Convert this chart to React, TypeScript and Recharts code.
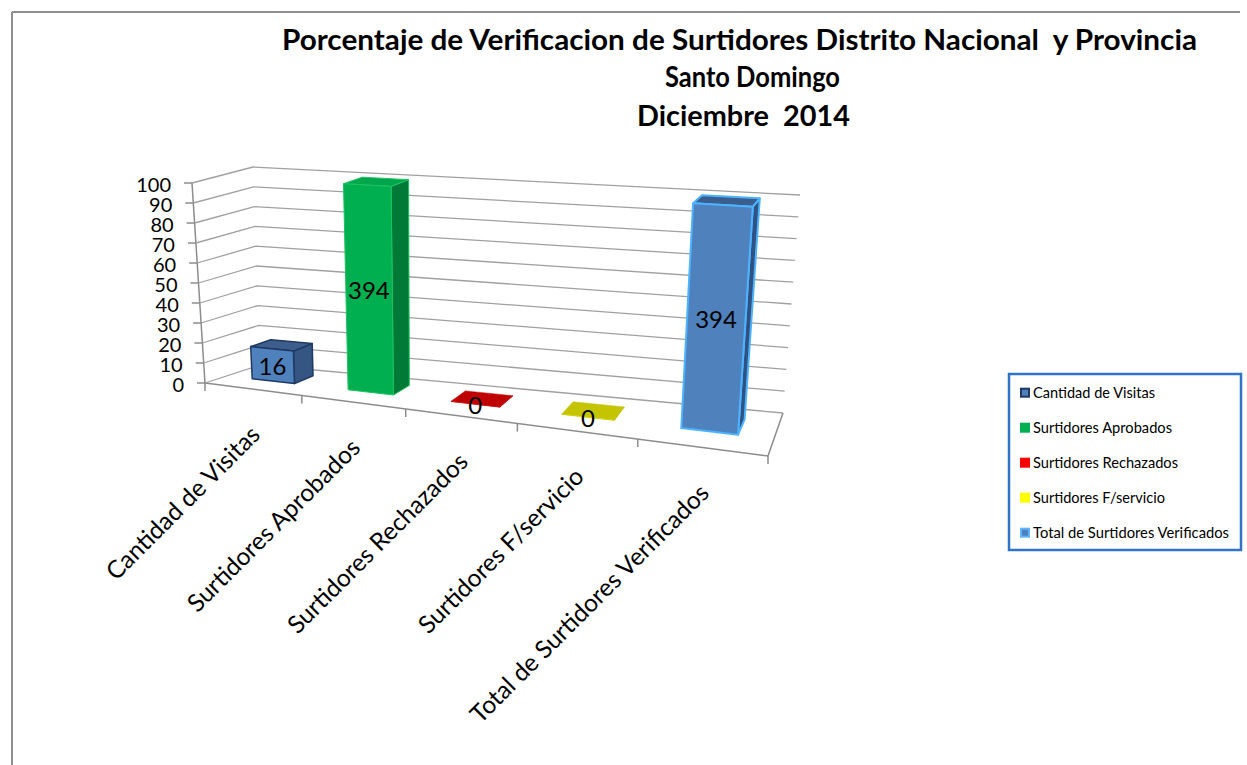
import { BarChart, Bar, XAxis, YAxis } from 'recharts';

const categories = [
  'Cantidad de Visitas',
  'Surtidores Aprobados',
  'Surtidores Rechazados',
  'Surtidores F/servicio',
  'Total de Surtidores Verificados',
];
const values = [16, 394, 0, 0, 394];
const yTicks = [0, 10, 20, 30, 40, 50, 60, 70, 80, 90, 100];
const titleLines = [
  'Porcentaje de Verificacion de Surtidores Distrito Nacional  y Provincia',
  'Santo Domingo',
  'Diciembre  2014',
];

const data = categories.map((name, i) => ({ name, value: values[i] }));

// front / side / top / outline colours per category
const faces = [
  { front: '#4f81bd', side: '#355582', top: '#3d5e8c', stroke: '#1f3864', sw: 1.5 },
  { front: '#00b050', side: '#007a36', top: '#00a64b', stroke: '#1cc260', sw: 1 },
  { front: '#ff0000', side: '#a00000', top: '#c00000', stroke: '#c00000', sw: 0.5 },
  { front: '#ffff00', side: '#a0a000', top: '#c4c400', stroke: '#c4c400', sw: 0.5 },
  { front: '#4f81bd', side: '#2f5282', top: '#3a5e8e', stroke: '#4db3ff', sw: 2 },
];
const legendSwatch = [
  { fill: '#4f81bd', stroke: '#1f3864' },
  { fill: '#00b050', stroke: '#00b050' },
  { fill: '#ff0000', stroke: '#ff0000' },
  { fill: '#ffff00', stroke: '#ffff00' },
  { fill: '#4f81bd', stroke: '#5fb4ff' },
];
const legendTextWidth = [122, 139, 145, 132, 196];

const W = 1247;
const H = 765;
// plot area left by the 1px axes
const PL = 1;
const PW = W - 1;
const PB = H - 1;
const PH = H - 1;
const FONT = "Lato, 'Open Sans', sans-serif";

// corners of the 3D box on screen (front/back, bottom/top, left/right)
type Pt = [number, number];
const FBL: Pt = [205, 383];
const FTL: Pt = [192, 183];
const FBR: Pt = [768, 456];
const FTR: Pt = [784, 218];
const BBL: Pt = [260, 365];
const BTL: Pt = [253, 167];
const BBR: Pt = [783, 413];
const BTR: Pt = [800, 195];
const K = 0.831; // foreshortening along the category axis
const WF = 0.4; // bar front depth
const WB = 0.77; // bar back depth

const warp = (u: number) => (u * K) / (1 + (K - 1) * u);
const mix = (a: Pt, b: Pt, t: number): Pt => [a[0] + (b[0] - a[0]) * t, a[1] + (b[1] - a[1]) * t];
function proj(u: number, v: number, w: number): Pt {
  const uu = warp(u);
  const bot = mix(mix(FBL, FBR, uu), mix(BBL, BBR, uu), w);
  const top = mix(mix(FTL, FTR, uu), mix(BTL, BTR, uu), w);
  return mix(bot, top, v);
}
const pts = (list: Pt[]) => list.map((p) => `${p[0].toFixed(1)},${p[1].toFixed(1)}`).join(' ');

function Prism(props: any) {
  const { x, y, width, index, value } = props;
  const c = faces[index];
  const u0 = (x - PL) / PW;
  const u1 = (x + width - PL) / PW;
  const v = Math.min(1, Math.max(0, (PB - y) / PH));
  const front = [proj(u0, 0, WF), proj(u1, 0, WF), proj(u1, v, WF), proj(u0, v, WF)];
  const side = [proj(u1, 0, WF), proj(u1, 0, WB), proj(u1, v, WB), proj(u1, v, WF)];
  const top = [proj(u0, v, WF), proj(u1, v, WF), proj(u1, v, WB), proj(u0, v, WB)];
  const lab = proj((u0 + u1) / 2, v / 2, WF);
  return (
    <g>
      <polygon points={pts(side)} fill={c.side} stroke={c.stroke} strokeWidth={c.sw} strokeLinejoin="round" />
      <polygon points={pts(top)} fill={c.top} stroke={c.stroke} strokeWidth={c.sw} strokeLinejoin="round" />
      <polygon points={pts(front)} fill={c.front} stroke={c.stroke} strokeWidth={c.sw} strokeLinejoin="round" />
      <text x={lab[0]} y={lab[1] + 10} textAnchor="middle" fontFamily={FONT} fontSize={24} fill="#000">
        {value}
      </text>
    </g>
  );
}

// y tick: label on the front edge plus the wall gridlines for that value
function YTick(props: any) {
  const { payload } = props;
  const yy = payload.coordinate ?? props.y;
  const v = (PB - yy) / PH;
  const a = proj(0, v, 0);
  const b = proj(0, v, 1);
  const c = proj(1, v, 1);
  const isZero = payload.value === 0;
  return (
    <g>
      <polyline points={pts([a, b, c])} fill="none" stroke="#a0a0a0" strokeWidth={1.3} />
      <line x1={a[0] - 8} y1={a[1]} x2={a[0]} y2={a[1]} stroke="#8c8c8c" strokeWidth={1.5} />
      <text x={a[0] - 21} y={a[1] + 8.5} textAnchor="end" fontFamily={FONT} fontSize={20} fill="#000">
        {payload.value}
      </text>
      {isZero && (
        <g stroke="#8c8c8c" strokeWidth={1.5} fill="none">
          <polyline points={pts([proj(0, 1, 0), proj(0, 0, 0), [a[0], a[1] + 8]])} />
          <polyline points={pts([proj(0, 0, 0), proj(1, 0, 0), proj(1, 0, 1)])} />
          {categories.map((_, i) => {
            const p = proj((i + 1) / categories.length, 0, 0);
            return <line key={i} x1={p[0]} y1={p[1]} x2={p[0]} y2={p[1] + 8} />;
          })}
        </g>
      )}
    </g>
  );
}

function XTick(props: any) {
  const { payload } = props;
  const xx = payload.coordinate ?? props.x;
  const p = proj((xx - PL) / PW, 0, 0);
  const bx = p[0] + 9;
  const by = p[1] + 47;
  return (
    <text
      x={bx}
      y={by}
      textAnchor="end"
      transform={`rotate(-45 ${bx} ${by})`}
      fontFamily={FONT}
      fontSize={24.5}
      fill="#000"
    >
      {payload.value}
    </text>
  );
}

const titleBoxes = [
  { x: 282, w: 915, y: 50 },
  { x: 665, w: 175, y: 87 },
  { x: 637, w: 213, y: 126 },
];

const layerStyle = { position: 'absolute' as const, left: 0, top: 0 };

export default function App() {
  return (
    <div style={{ position: 'relative', width: W, height: H, overflow: 'hidden', background: '#fff' }}>
      <style>{'html,body{margin:0;padding:0;overflow:hidden;background:#fff}'}</style>
      <svg width={W} height={H} style={layerStyle}>
        <line x1={12} y1={12} x2={1240} y2={12} stroke="#8f8f8f" strokeWidth={2} />
        <line x1={12} y1={12} x2={12} y2={H} stroke="#8f8f8f" strokeWidth={2} />
      </svg>
      {/* walls, floor and axis labels, behind the bars */}
      <div style={layerStyle}>
        <BarChart width={W} height={H} data={data} margin={{ top: 0, right: 0, bottom: 0, left: 0 }} barCategoryGap="27.5%">
          <YAxis
            width={1}
            domain={[0, 100]}
            ticks={yTicks}
            allowDataOverflow
            axisLine={false}
            tickLine={false}
            tick={<YTick />}
            interval={0}
          />
          <XAxis dataKey="name" height={1} axisLine={false} tickLine={false} tick={<XTick />} interval={0} />
          <Bar dataKey="value" shape={() => <g />} isAnimationActive={false} />
        </BarChart>
      </div>
      {/* the 3D columns */}
      <div style={layerStyle}>
        <BarChart width={W} height={H} data={data} margin={{ top: 0, right: 0, bottom: 0, left: 0 }} barCategoryGap="27.5%">
          <YAxis width={1} domain={[0, 100]} ticks={yTicks} allowDataOverflow axisLine={false} tickLine={false} tick={false} />
          <XAxis dataKey="name" height={1} axisLine={false} tickLine={false} tick={false} />
          <Bar dataKey="value" shape={Prism} minPointSize={1} isAnimationActive={false} />
        </BarChart>
      </div>
      <svg width={W} height={H} style={{ ...layerStyle, pointerEvents: 'none' }}>
        {titleLines.map((t, i) => (
          <text
            key={i}
            x={titleBoxes[i].x}
            y={titleBoxes[i].y}
            textLength={titleBoxes[i].w}
            lengthAdjust="spacingAndGlyphs"
            fontFamily={FONT}
            fontWeight="bold"
            fontSize={29}
            fill="#000"
            style={{ whiteSpace: 'pre' }}
          >
            {t}
          </text>
        ))}
        <rect x={1009} y={374} width={232} height={176} fill="#fff" stroke="#2f74c6" strokeWidth={2.5} />
        {categories.map((name, i) => {
          const cy = 392.7 + i * 35;
          return (
            <g key={name}>
              <rect x={1021} y={cy - 4} width={8} height={8} fill={legendSwatch[i].fill} stroke={legendSwatch[i].stroke} strokeWidth={2} />
              <text
                x={1033}
                y={cy + 5.4}
                textLength={legendTextWidth[i]}
                lengthAdjust="spacingAndGlyphs"
                fontFamily={FONT}
                fontSize={15}
                fill="#000"
              >
                {name}
              </text>
            </g>
          );
        })}
      </svg>
    </div>
  );
}
